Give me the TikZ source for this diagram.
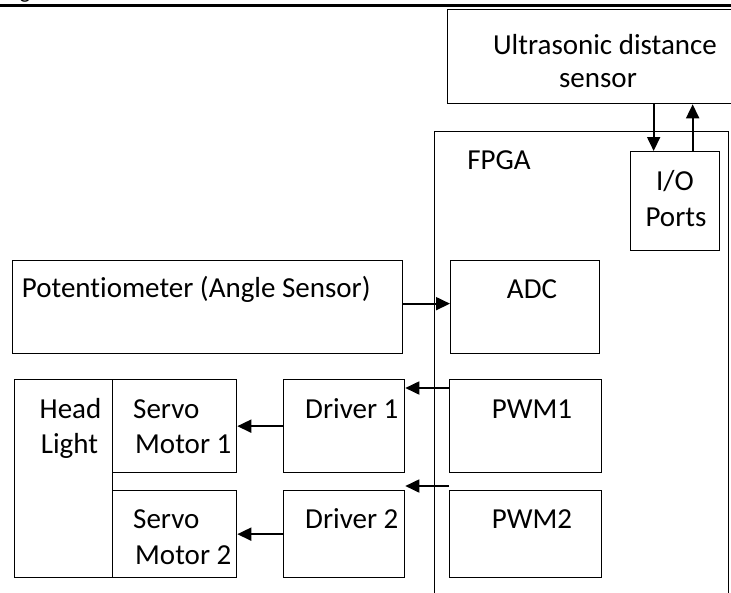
\documentclass[tikz,border=0pt]{standalone}
\usepackage{fontspec}
\setmainfont{Carlito}[Ligatures={NoCommon}]
\usetikzlibrary{arrows.meta}
\begin{document}
\begin{tikzpicture}[x=1pt,y=-1pt,
  blk/.style={draw, line width=1.3pt, inner sep=0pt, anchor=north west},
  arr/.style={line width=1.8pt, -{Triangle[length=14pt,width=13pt]}},
  lbl/.style={font=\fontsize{29}{35}\selectfont, inner sep=0pt, anchor=base},
  lblw/.style={lbl, anchor=base west},
]
\useasboundingbox (0,0) rectangle (731,592);
% caption fragment and top rule
\node[font=\fontsize{22}{26}\selectfont, inner sep=0pt, anchor=base] (figcap) at (25,-2) {g};
\coordinate (ruleL) at (0,5.5);
\coordinate (ruleR) at (731,5.5);
\draw[line width=2.5pt] (ruleL) -- (ruleR);

% boxes
\node[blk, minimum width=290pt, minimum height=94pt] (us) at (447,9) {};
\node[blk, minimum width=294pt, minimum height=480pt] (fpga) at (434,131) {};
\node[blk, minimum width=89pt, minimum height=99pt] (io) at (630,151) {};
\node[blk, minimum width=149pt, minimum height=93pt] (adc) at (450,260) {};
\node[blk, minimum width=390pt, minimum height=93pt] (pot) at (12,260) {};
\node[blk, minimum width=152pt, minimum height=93pt] (pwm1) at (449,379) {};
\node[blk, minimum width=152pt, minimum height=87pt] (pwm2) at (449,490) {};
\node[blk, minimum width=98pt, minimum height=198pt] (head) at (14,379) {};
\node[blk, minimum width=124pt, minimum height=93pt] (srv1) at (112,379) {};
\node[blk, minimum width=124pt, minimum height=87pt] (srv2) at (112,490) {};
\node[blk, minimum width=121pt, minimum height=93pt] (drv1) at (283,379) {};
\node[blk, minimum width=121pt, minimum height=87pt] (drv2) at (283,490) {};

% texts
\node[lbl] (tus1) at (605,54) {Ultrasonic distance};
\node[lbl] (tus2) at (598,87) {sensor};
\node[lbl] (tfpga) at (499,169) {FPGA};
\node[lbl] (tio1) at (675,190) {I/O};
\node[lbl] (tio2) at (676,226.5) {Ports};
\node[lbl] (tadc) at (532,298) {ADC};
\node[lblw] (tpot) at (21.7,297) {Potentiometer (Angle Sensor)};
\node[lbl] (thead1) at (70.5,418) {Head};
\node[lbl] (thead2) at (69.5,453) {Light};
\node[lblw] (tsrv1a) at (133,418) {Servo};
\node[lblw] (tsrv1b) at (135,453) {Motor 1};
\node[lblw] (tsrv2a) at (133,528) {Servo};
\node[lblw] (tsrv2b) at (135,564) {Motor 2};
\node[lblw] (tdrv1) at (305,418) {Driver 1};
\node[lblw] (tdrv2) at (305,528) {Driver 2};
\node[lbl] (tpwm1) at (532,418) {PWM1};
\node[lbl] (tpwm2) at (532,528) {PWM2};

% connectors
\coordinate (dn) at ([xshift=-21.5pt]io.north);
\coordinate (up) at ([xshift=17.5pt]io.north);
\draw[arr] (dn |- us.south) -- (dn);
\draw[arr] (up) -- (up |- us.south);
\draw[arr] ([yshift=3.5pt]pot.east) -- ([yshift=3.5pt]adc.west);
\draw[arr] ([yshift=-9pt]pwm1.north west) -- ([yshift=-9pt]drv1.north east);
\draw[arr] ([yshift=4pt]pwm2.north west) -- ([yshift=4pt]drv2.north east);
\draw[arr] (drv1.west) -- (srv1.east);
\draw[arr] (drv2.west) -- (srv2.east);
\end{tikzpicture}
\end{document}
